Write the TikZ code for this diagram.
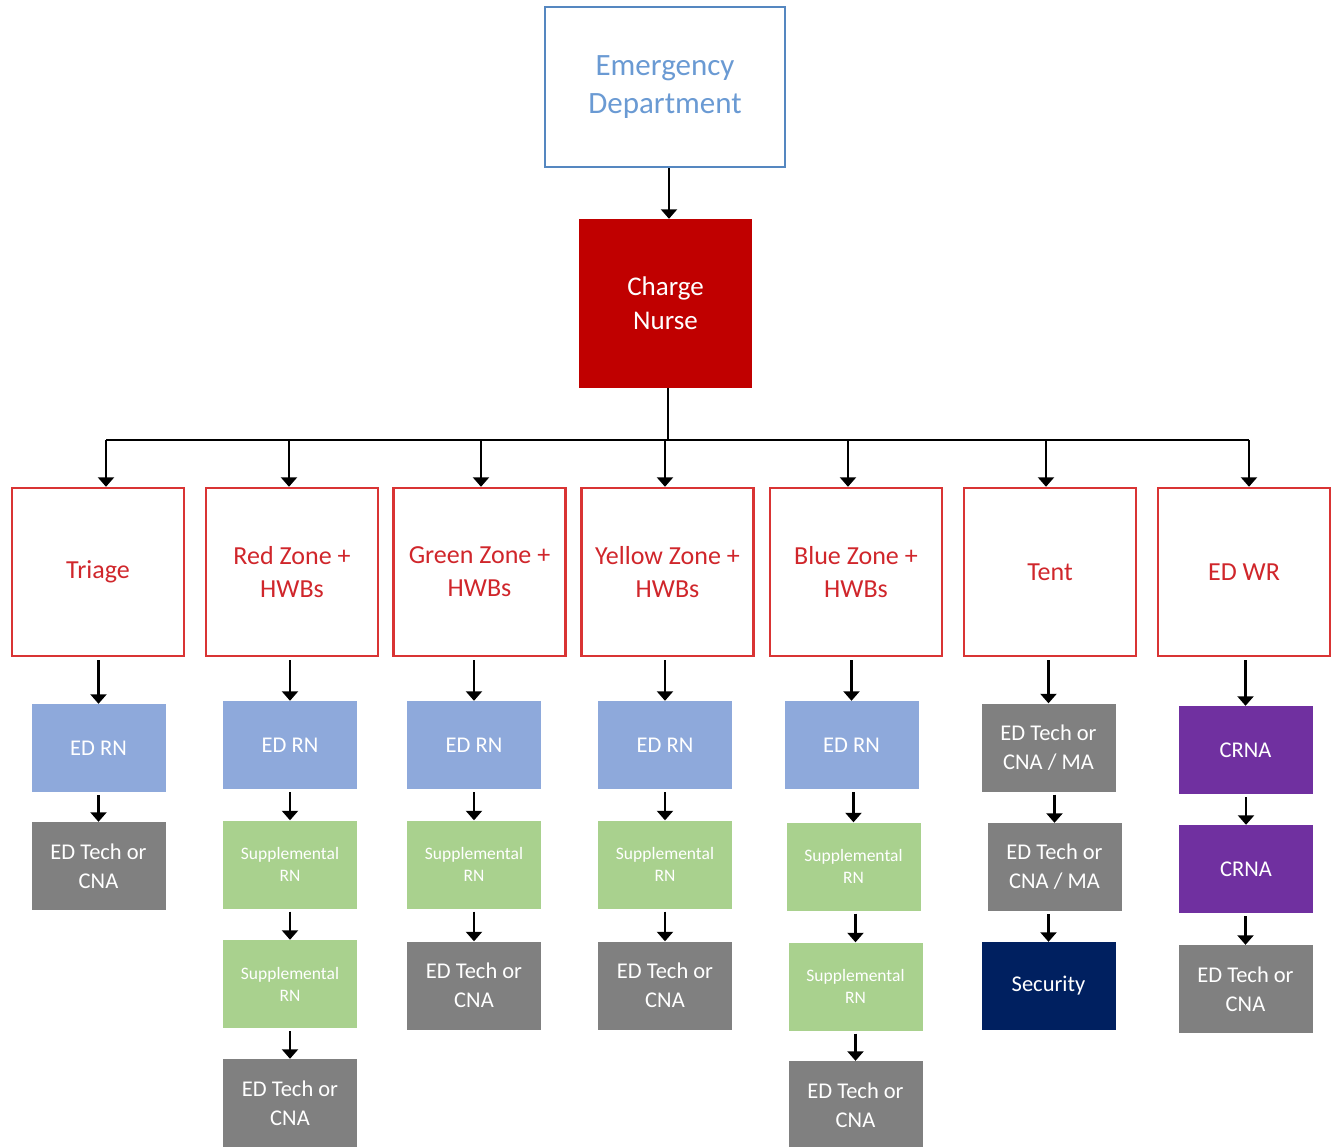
\documentclass[tikz,border=0pt]{standalone}
\usepackage{fontspec}
\setmainfont{Carlito}
\usetikzlibrary{arrows.meta}
\definecolor{edborder}{HTML}{5587C0}
\definecolor{edtext}{HTML}{6A9AD3}
\definecolor{chargered}{HTML}{C00000}
\definecolor{zoneborder}{HTML}{D93434}
\definecolor{zonetext}{HTML}{D0262B}
\definecolor{rnblue}{HTML}{8EA9DB}
\definecolor{suppgreen}{HTML}{A9D18E}
\definecolor{techgray}{HTML}{808080}
\definecolor{secnavy}{HTML}{002060}
\definecolor{crnapurple}{HTML}{7030A0}
\tikzset{
  base/.style={rectangle, inner sep=0pt, align=center},
  dept/.style={base, draw=edborder, line width=2.4pt, text=edtext,
    minimum width=240pt, minimum height=160pt,
    font=\fontsize{31}{39}\selectfont},
  charge/.style={base, fill=chargered, text=white,
    minimum width=173pt, minimum height=169pt,
    font=\fontsize{27}{34}\selectfont},
  zone/.style={base, draw=zoneborder, line width=2.4pt, text=zonetext, fill=white,
    minimum width=172pt, minimum height=168pt,
    font=\fontsize{26}{33}\selectfont},
  staff/.style={base, text=white, minimum width=134pt, minimum height=88pt,
    font=\fontsize{22.5}{29}\selectfont},
  edrn/.style={staff, fill=rnblue},
  supp/.style={staff, fill=suppgreen, font=\fontsize{17.5}{22}\selectfont},
  tech/.style={staff, fill=techgray},
  sec/.style={staff, fill=secnavy},
  crna/.style={staff, fill=crnapurple},
  arr/.style={-{Triangle[width=16pt,length=9.5pt]}, line width=2.2pt, black},
  link/.style={line width=2.2pt, black},
}
\begin{document}
\begin{tikzpicture}[x=1pt, y=-1pt]
\useasboundingbox (0,0) rectangle (1338,1147);

% top of the chart
\node[dept] (ed) at (665,87) {\raisebox{-3pt}{\begin{tabular}{@{}c@{}}Emergency\\[-1pt]Department\end{tabular}}};
\node[charge] (cn) at (665.5,303.5) {Charge\\Nurse};

% zones
\node[zone] (triage) at (98,572)   {Triage};
\node[zone] (red)    at (292,572)  {Red Zone +\\HWBs};
\node[zone] (green)  at (479.5,572){Green Zone +\\HWBs};
\node[zone] (yellow) at (667.5,572){Yellow Zone +\\HWBs};
\node[zone] (blue)   at (856,572)  {Blue Zone +\\HWBs};
\node[zone] (tent)   at (1050,572) {Tent};
\node[zone] (edwr)   at (1244,572) {ED WR};

% staff under Triage
\node[edrn] (t1) at (98.5,748) {ED RN};
\node[tech] (t2) at (98.5,866) {ED Tech or\\CNA};
% staff under Red Zone
\node[edrn] (r1) at (290,745)   {ED RN};
\node[supp] (r2) at (290,864.5) {Supplemental\\RN};
\node[supp] (r3) at (290,984)   {Supplemental\\RN};
\node[tech] (r4) at (290,1103)  {ED Tech or\\CNA};
% staff under Green Zone
\node[edrn] (g1) at (474,745)   {ED RN};
\node[supp] (g2) at (474,864.5) {Supplemental\\RN};
\node[tech] (g3) at (474,985.5) {ED Tech or\\CNA};
% staff under Yellow Zone
\node[edrn] (y1) at (665,745)   {ED RN};
\node[supp] (y2) at (665,864.5) {Supplemental\\RN};
\node[tech] (y3) at (665,985.5) {ED Tech or\\CNA};
% staff under Blue Zone
\node[edrn] (b1) at (851.5,745)  {ED RN};
\node[supp] (b2) at (853.5,866.5){Supplemental\\RN};
\node[supp] (b3) at (855.5,986.5){Supplemental\\RN};
\node[tech] (b4) at (855.5,1105) {ED Tech or\\CNA};
% staff under Tent
\node[tech] (n1) at (1048.5,747.5) {ED Tech or\\CNA / MA};
\node[tech] (n2) at (1054.5,867)   {ED Tech or\\CNA / MA};
\node[sec]  (n3) at (1048.5,986)   {Security};
% staff under ED WR
\node[crna] (w1) at (1245.5,750) {CRNA};
\node[crna] (w2) at (1246,869)   {CRNA};
\node[tech] (w3) at (1245.5,989) {ED Tech or\\CNA};

% connectors from the top
\draw[arr] (ed.south -| 669,0) -- (cn.north -| 669,0);
\coordinate (bus) at (668,440);
\draw[link] (cn.south -| bus) -- (bus);
\draw[link] ([xshift=8pt]triage.north |- bus) -- ([xshift=5pt]edwr.north |- bus);
\foreach \z/\dx in {triage/8,red/-3,green/1.5,yellow/-2.5,blue/-8,tent/-4,edwr/5}
  \draw[arr] ([xshift=\dx pt]\z.north |- bus) -- ([xshift=\dx pt]\z.north);

% connectors down each column
\foreach \a/\b in {triage/t1,t1/t2,
                   red/r1,r1/r2,r2/r3,r3/r4,
                   green/g1,g1/g2,g2/g3,
                   yellow/y1,y1/y2,y2/y3,
                   blue/b1,b1/b2,b2/b3,b3/b4,
                   tent/n1,n1/n2,n2/n3,
                   edwr/w1,w1/w2,w2/w3}
  \draw[arr] ([yshift=-3pt]\a.south -| \b.north) -- (\b.north);
\end{tikzpicture}
\end{document}
